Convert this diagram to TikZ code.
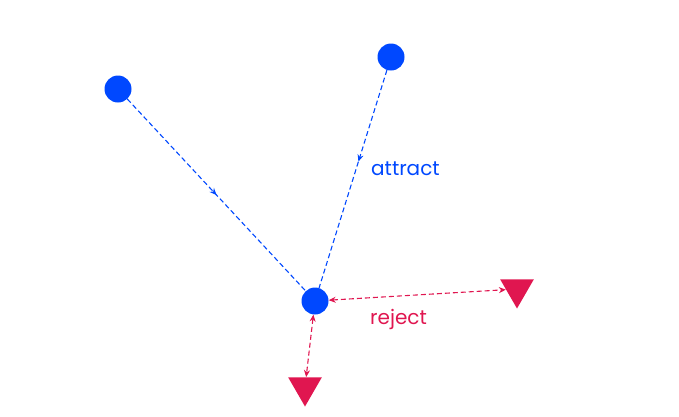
\documentclass[tikz,border=0pt]{standalone}
\usepackage{fontspec}
\setmainfont{Poppins}
\usetikzlibrary{shapes.geometric, arrows.meta, decorations.markings}
\definecolor{dotblue}{RGB}{0,72,255}
\definecolor{rejred}{RGB}{224,22,80}

\begin{document}
\begin{tikzpicture}[x=1pt, y=-1pt]

\tikzstyle{dot} = [circle, fill=dotblue, minimum size=27pt, inner sep=0pt]
\tikzstyle{target} = [regular polygon, regular polygon sides=3, shape border rotate=180, fill=rejred, minimum size=39pt, inner sep=0pt]
\tikzstyle{attractline} = [line width=1.1pt, dash pattern=on 5pt off 3pt, dotblue, postaction={decorate}, decoration={markings, mark=at position #1 with {\arrow{Stealth[length=7pt, width=6pt]}}}]
\tikzstyle{rejectline} = [line width=1.1pt, dash pattern=on 5pt off 3pt, rejred, {Stealth[length=7pt, width=6pt]}-{Stealth[length=7pt, width=6pt]}]
\tikzstyle{label} = [font=\fontsize{20}{24}\selectfont, anchor=west, inner sep=0pt]

\useasboundingbox (0,0) rectangle (679,416);

\node (A) [dot] at (118,89) {};
\node (B) [dot] at (391,57) {};
\node (C) [dot] at (315,301) {};
\node (T1) [target] at (517,289) {};
\node (T2) [target] at (305,387) {};

\draw [attractline=0.5] (A) -- (C);
\draw [attractline=0.42] (B) -- (C);
\draw [rejectline] (C) -- (T1);
\draw [rejectline] (C) -- (T2);

\node (attract) [label, text=dotblue] at (371,169) {attract};
\node (reject) [label, text=rejred] at (370,319) {reject};

\end{tikzpicture}
\end{document}
